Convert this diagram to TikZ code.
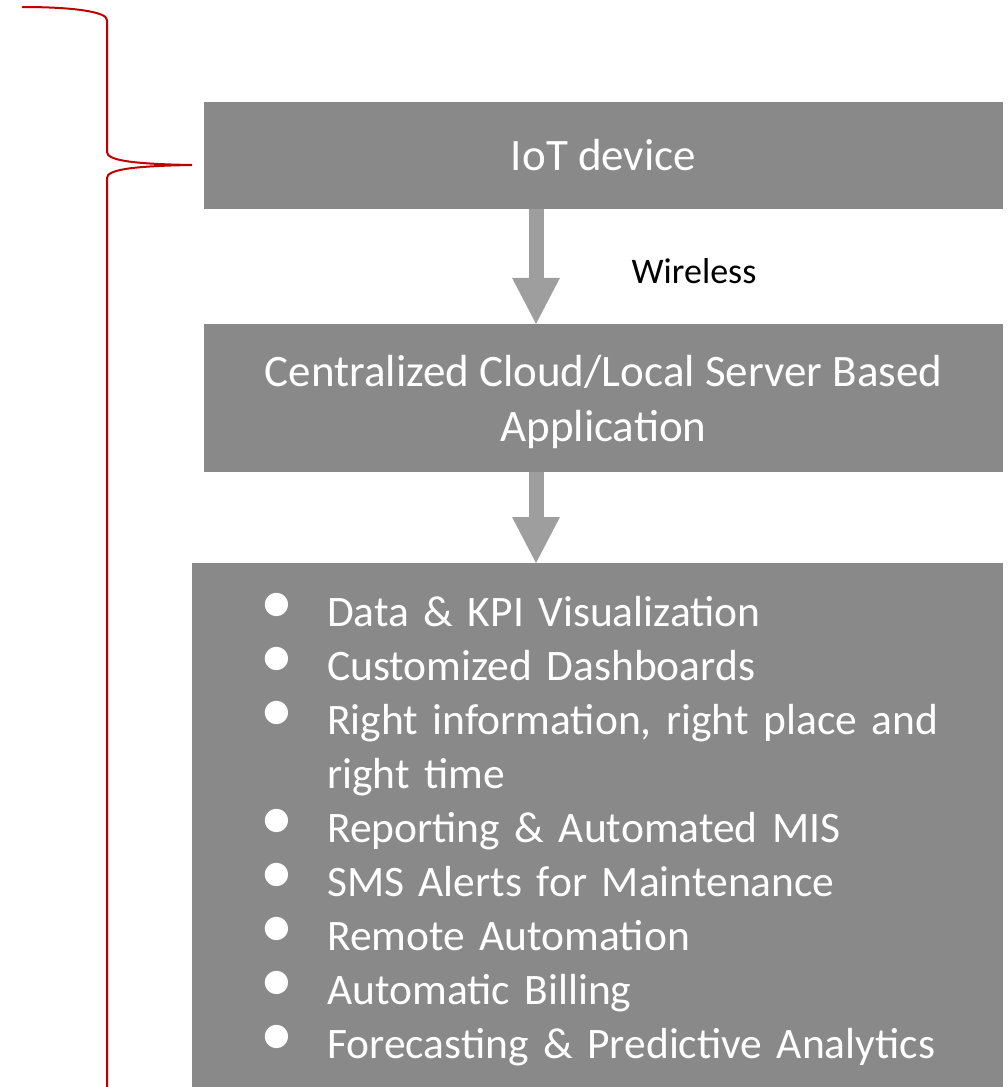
\documentclass[tikz,border=0pt]{standalone}
\usepackage{fontspec}
\setmainfont{Carlito}
\usetikzlibrary{arrows.meta}
\definecolor{boxgrey}{HTML}{898989}
\definecolor{arrowgrey}{HTML}{9E9E9E}
\definecolor{bracered}{HTML}{C00000}
\newcommand{\dotmark}{\hspace*{-11pt}\raisebox{3.5pt}{\smash{\fontsize{66}{66}\selectfont\textbullet}}}

\begin{document}
\begin{tikzpicture}[x=1pt,y=-1pt,
    box/.style={fill=boxgrey,text=white,inner sep=0pt,font=\fontsize{45}{54.5}\selectfont},
    fatarrow/.style={arrowgrey,line width=15pt,-{Triangle[length=46pt,width=48pt,line width=0pt]}},
    brace/.style={bracered,line width=2pt}]
        \useasboundingbox (0,0) rectangle (1008,1087);

        \node[box,minimum width=799,minimum height=107] (iot) at (603.5,155.5) {IoT device};
        \node[box,minimum width=799,minimum height=148,align=center] (cloud) at (603.5,398)
            {\rule{0pt}{39pt}Centralized Cloud/Local Server Based\\Application};
        \node[box,anchor=north west,minimum height=524,text width=811pt,align=left,
            font=\fontsize{43.5}{54}\selectfont] (apps) at (192,563) {%
            \begin{list}{\dotmark\hfill}{\setlength\leftmargin{135pt}\setlength\labelwidth{56pt}%
                \setlength\labelsep{0pt}\setlength\topsep{0pt}\setlength\partopsep{0pt}%
                \setlength\itemsep{0pt}\setlength\parsep{0pt}\raggedright}
            \item Data \& KPI Visualization
            \item Customized Dashboards
            \item Right information, right place and right time
            \item Reporting \& Automated MIS
            \item SMS Alerts for Maintenance
            \item Remote Automation
            \item Automatic Billing
            \item Forecasting \& Predictive Analytics
            \end{list}\par\vspace{11pt}};

        \coordinate (axis) at (536,0);
        \draw[fatarrow] (iot.south -| axis) -- (cloud.north -| axis);
        \draw[fatarrow] (cloud.south -| axis) -- (apps.north -| axis);
        \node[font=\fontsize{36}{43}\selectfont] (wireless) at (694,271) {Wireless};

        \coordinate (tip) at (192,165);
        \draw[brace] (22,7) .. controls (75,7) and (107,12) .. (107,20) -- (107,152)
            .. controls (107,160) and (130,164) .. (tip)
            .. controls (130,166) and (107,170) .. (107,178) -- (107,1087);
      \end{tikzpicture}
\end{document}
